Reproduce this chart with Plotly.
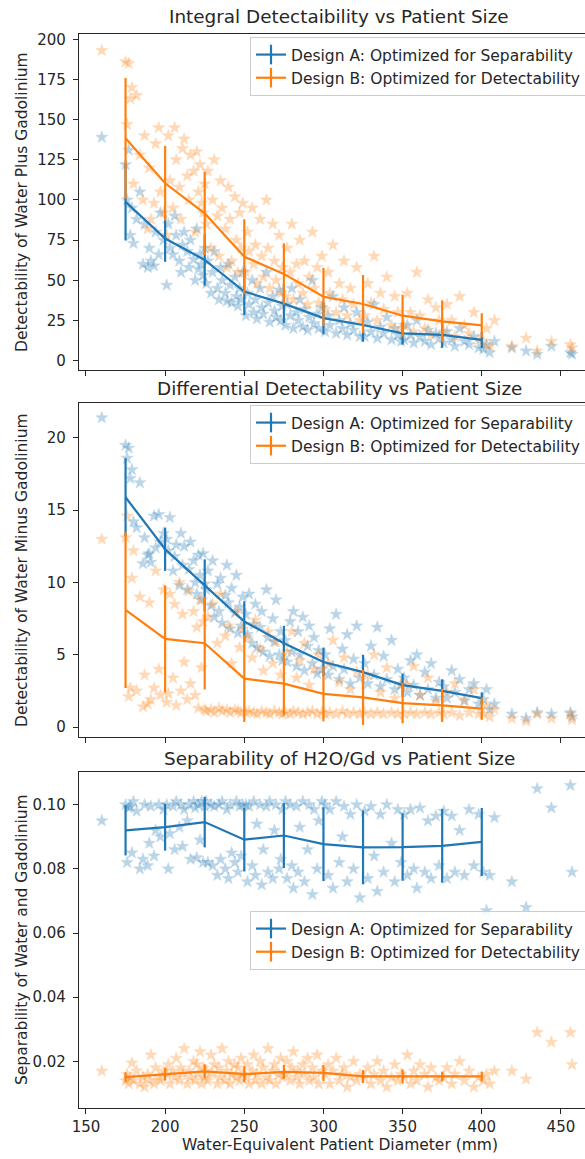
import plotly.graph_objects as go

# ---------------- data ----------------
# Water-equivalent diameter of each patient (mm)
diameter_mm = [
    160,
    175, 176, 177, 178, 179, 180, 182, 184, 186, 187, 189, 190, 191, 193, 194, 196, 197, 199,
    201, 202, 203, 205, 206, 207, 209, 210, 211, 212, 214, 215, 216, 218, 219, 220, 221, 222, 223, 224, 225,
    226, 227, 229, 230, 231, 233, 234, 235, 236, 238, 239, 240, 241, 242, 244, 245, 246, 247, 248, 249,
    251, 252, 253, 255, 256, 257, 258, 260, 261, 262, 264, 265, 266, 268, 269, 270, 272, 273, 274,
    276, 277, 279, 280, 281, 283, 284, 285, 287, 288, 290, 291, 293, 294, 296, 297, 299,
    301, 303, 304, 306, 308, 310, 312, 313, 315, 317, 319, 321, 323,
    326, 328, 330, 332, 334, 336, 338, 340, 343, 345, 347, 349,
    351, 353, 355, 357, 359, 361, 364, 366, 368, 371, 373,
    376, 378, 381, 383, 386, 389, 392, 395, 398,
    401, 403, 405, 408,
    419, 428, 435, 444, 456, 457,
]

# Integral detectability (water plus gadolinium) per patient
int_det_a = [
    139,
    122, 100, 131, 78, 95, 73, 88, 105, 60, 85, 58, 70, 62, 59, 80, 66, 92, 75,
    47, 85, 70, 66, 90, 78, 62, 55, 72, 80, 68, 58, 75, 63, 50, 82, 57, 66, 60, 53, 70,
    48, 62, 42, 55, 68, 45, 38, 58, 50, 42, 37, 60, 47, 36, 52, 40, 34, 45, 38, 55,
    28, 42, 35, 50, 30, 38, 26, 45, 33, 29, 55, 36, 24, 40, 31, 27, 44, 25, 34,
    22, 35, 28, 45, 20, 30, 25, 38, 21, 32, 19, 27, 50, 23, 29, 20, 33,
    18, 28, 22, 40, 17, 25, 20, 33, 16, 23, 19, 30, 15,
    15, 24, 18, 35, 14, 21, 17, 27, 13, 20, 16, 12,
    13, 22, 16, 11, 25, 15, 12, 19, 10, 17, 14,
    11, 18, 13, 9, 20, 12, 10, 15, 8,
    7, 10, 5, 12,
    8, 6, 4, 9, 5, 4,
]
int_det_b = [
    193,
    186, 147, 185, 163, 170, 110, 165, 128, 100, 140, 82, 120, 88, 98, 135, 145, 105, 92,
    78, 140, 112, 95, 145, 125, 108, 88, 132, 138, 115, 100, 128, 118, 80, 130, 105, 122, 98, 92, 110,
    85, 118, 70, 100, 125, 90, 65, 112, 95, 82, 58, 108, 88, 62, 102, 75, 55, 92, 70, 98,
    55, 80, 68, 95, 60, 72, 48, 88, 65, 52, 100, 70, 45, 85, 62, 50, 78, 42, 58,
    40, 70, 55, 85, 38, 60, 48, 75, 42, 62, 35, 52, 80, 45, 58, 36, 65,
    32, 55, 42, 72, 30, 48, 38, 62, 28, 45, 35, 58, 25,
    28, 48, 36, 65, 25, 42, 32, 52, 22, 40, 30, 20,
    22, 42, 30, 18, 55, 28, 20, 38, 16, 33, 25,
    18, 35, 25, 15, 40, 22, 17, 30, 13,
    12, 20, 9, 25,
    9, 14, 6, 12, 10, 8,
]

# Differential detectability (water minus gadolinium) per patient
diff_det_a = [
    21.4,
    19.5, 18.6, 19.3, 17.2, 17.8, 14.2, 13.8, 16.9, 11.3, 13.1, 11.9, 12.0, 11.4, 14.6, 12.4, 14.7, 12.8, 13.4,
    13.0, 12.2, 14.5, 10.8, 11.8, 12.6, 9.8, 13.4, 11.2, 12.5, 9.5, 10.9, 12.8, 11.5, 10.0, 9.2, 11.9, 10.5, 8.8, 12.0, 9.9,
    9.5, 10.8, 8.4, 11.5, 7.6, 9.9, 8.0, 10.3, 7.2, 9.1, 11.2, 8.6, 6.8, 9.6, 7.9, 10.5, 6.5, 8.3, 7.0, 9.0,
    7.8, 6.4, 9.2, 5.8, 7.1, 8.5, 5.5, 6.9, 8.0, 5.2, 9.5, 6.2, 4.9, 7.5, 5.9, 8.8, 5.0, 6.6, 4.6,
    6.0, 4.5, 7.3, 5.2, 8.0, 4.2, 6.6, 5.0, 7.6, 3.9, 5.6, 7.0, 4.4, 6.2, 3.7, 5.3, 4.0,
    5.0, 3.6, 6.8, 4.2, 7.8, 3.3, 5.4, 4.0, 6.4, 3.0, 4.7, 7.0, 3.4,
    4.4, 3.0, 5.6, 3.6, 6.9, 2.8, 4.9, 3.3, 6.0, 2.6, 4.0, 2.9,
    3.4, 2.4, 4.6, 2.9, 5.0, 2.2, 3.8, 2.6, 4.4, 2.0, 3.1,
    2.8, 2.0, 3.9, 2.4, 3.3, 1.8, 2.6, 3.0, 1.6,
    1.9, 2.6, 1.2, 1.6,
    0.9, 0.6, 1.0, 0.9, 1.0, 0.7,
]
diff_det_b = [
    13.0,
    13.1, 14.6, 2.1, 2.7, 10.3, 12.2, 2.5, 9.0, 1.4, 3.6, 1.6, 8.6, 1.9, 2.7, 10.8, 4.0, 2.2, 9.5,
    1.7, 2.3, 9.2, 3.4, 8.5, 1.5, 10.0, 2.5, 7.8, 4.5, 1.9, 9.4, 3.0, 8.0, 2.2, 6.9, 1.3, 8.8, 4.1, 7.3, 1.2,
    1.1, 7.6, 1.2, 8.5, 1.0, 5.8, 1.3, 9.2, 1.1, 6.3, 1.2, 7.0, 1.0, 4.4, 1.2, 8.0, 1.1, 5.5, 1.0, 6.8,
    1.0, 6.2, 1.1, 4.8, 1.0, 7.4, 0.9, 5.4, 1.1, 3.9, 1.0, 6.6, 0.9, 4.4, 1.1, 5.9, 1.0, 3.6, 0.9,
    1.0, 5.2, 0.9, 6.6, 1.1, 3.4, 1.0, 4.6, 0.9, 5.8, 1.0, 2.9, 1.1, 4.0, 0.9, 5.0, 1.0,
    0.9, 4.4, 1.0, 6.0, 0.9, 3.1, 1.1, 4.8, 0.9, 2.6, 1.0, 3.8, 0.9,
    1.0, 3.6, 0.9, 5.0, 1.0, 2.4, 0.9, 4.1, 1.0, 2.0, 0.9, 3.0,
    0.9, 2.9, 1.0, 4.2, 0.9, 2.2, 1.0, 3.4, 0.9, 1.8, 1.0,
    0.9, 2.4, 1.0, 3.0, 0.8, 1.9, 1.0, 2.6, 0.9,
    0.9, 1.5, 0.7, 1.2,
    0.6, 0.4, 0.9, 0.6, 0.9, 0.5,
]

# Separability of water and gadolinium per patient
sep_a = [
    0.095,
    0.100, 0.082, 0.099, 0.0995, 0.085, 0.101, 0.098, 0.080, 0.083, 0.100, 0.081, 0.088, 0.0995, 0.084, 0.092, 0.100, 0.090, 0.0985,
    0.100, 0.080, 0.091, 0.0995, 0.086, 0.101, 0.093, 0.100, 0.087, 0.0985, 0.095, 0.100, 0.083, 0.101, 0.099, 0.0835, 0.100, 0.089, 0.101, 0.082, 0.0995,
    0.101, 0.082, 0.100, 0.081, 0.0995, 0.078, 0.100, 0.083, 0.101, 0.080, 0.0985, 0.077, 0.100, 0.085, 0.082, 0.101, 0.079, 0.0995, 0.084, 0.100,
    0.100, 0.076, 0.0995, 0.081, 0.101, 0.078, 0.094, 0.100, 0.075, 0.086, 0.0995, 0.079, 0.101, 0.077, 0.092, 0.100, 0.080, 0.083, 0.0985,
    0.101, 0.077, 0.100, 0.081, 0.074, 0.0995, 0.079, 0.093, 0.101, 0.076, 0.086, 0.100, 0.072, 0.0985, 0.080, 0.095, 0.101,
    0.100, 0.078, 0.0985, 0.074, 0.101, 0.082, 0.090, 0.0995, 0.076, 0.097, 0.080, 0.100, 0.071,
    0.098, 0.077, 0.0995, 0.084, 0.073, 0.097, 0.079, 0.100, 0.088, 0.076, 0.0985, 0.082,
    0.097, 0.078, 0.0985, 0.080, 0.074, 0.099, 0.079, 0.095, 0.077, 0.0965, 0.081,
    0.098, 0.077, 0.0965, 0.079, 0.092, 0.078, 0.0985, 0.081, 0.097,
    0.079, 0.067, 0.078, 0.096,
    0.076, 0.068, 0.105, 0.099, 0.106, 0.079,
]
sep_b = [
    0.017,
    0.014, 0.016, 0.013, 0.015, 0.0195, 0.014, 0.017, 0.013, 0.015, 0.012, 0.016, 0.014, 0.022, 0.013, 0.018, 0.015, 0.014, 0.017,
    0.016, 0.019, 0.013, 0.017, 0.015, 0.021, 0.014, 0.018, 0.016, 0.024, 0.013, 0.017, 0.015, 0.020, 0.014, 0.019, 0.016, 0.023, 0.013, 0.018, 0.015,
    0.017, 0.014, 0.022, 0.016, 0.019, 0.013, 0.018, 0.015, 0.024, 0.014, 0.017, 0.020, 0.013, 0.016, 0.019, 0.015, 0.018, 0.014, 0.021, 0.016,
    0.015, 0.019, 0.013, 0.017, 0.022, 0.014, 0.016, 0.020, 0.013, 0.018, 0.015, 0.024, 0.014, 0.017, 0.019, 0.013, 0.016, 0.021, 0.015,
    0.016, 0.020, 0.014, 0.018, 0.023, 0.015, 0.017, 0.013, 0.019, 0.016, 0.021, 0.014, 0.018, 0.015, 0.022, 0.013, 0.017,
    0.016, 0.019, 0.013, 0.017, 0.021, 0.014, 0.016, 0.018, 0.012, 0.015, 0.020, 0.014, 0.016,
    0.015, 0.018, 0.013, 0.016, 0.020, 0.014, 0.017, 0.012, 0.015, 0.019, 0.014, 0.016,
    0.015, 0.022, 0.013, 0.017, 0.014, 0.019, 0.016, 0.012, 0.018, 0.015, 0.014,
    0.015, 0.018, 0.013, 0.016, 0.020, 0.014, 0.017, 0.012, 0.015,
    0.014, 0.016, 0.013, 0.017,
    0.017, 0.0145, 0.029, 0.026, 0.029, 0.019,
]

# Binned summaries (bin centre, mean, standard deviation)
bin_centers = [175, 200, 225, 250, 275, 300, 325, 350, 375, 400]
int_mean_a = [98.8, 76.0, 62.7, 43.0, 35.5, 26.5, 22.2, 17.0, 16.0, 12.9]
int_std_a = [24.0, 14.5, 16.0, 14.6, 12.0, 10.0, 10.4, 7.0, 8.0, 5.0]
int_mean_b = [138.4, 110.4, 91.7, 64.7, 54.0, 39.8, 35.3, 28.0, 24.5, 22.0]
int_std_b = [37.5, 23.2, 26.0, 23.3, 19.0, 18.0, 18.0, 13.0, 13.0, 7.5]
diff_mean_a = [15.9, 12.3, 9.8, 7.3, 5.8, 4.5, 3.8, 2.9, 2.5, 2.0]
diff_std_a = [2.7, 1.5, 1.8, 1.4, 1.2, 1.0, 1.2, 0.8, 0.8, 0.4]
diff_mean_b = [8.1, 6.1, 5.8, 3.35, 3.0, 2.3, 2.05, 1.66, 1.5, 1.27]
diff_std_b = [5.4, 3.7, 3.2, 3.0, 2.2, 1.9, 1.9, 1.4, 1.15, 0.77]
sep_mean_a = [0.0920, 0.0930, 0.0946, 0.0891, 0.0904, 0.0877, 0.0867, 0.0868, 0.0872, 0.0884]
sep_std_a = [0.0078, 0.0073, 0.0079, 0.0099, 0.0101, 0.0115, 0.0115, 0.0105, 0.0115, 0.0106]
sep_mean_b = [0.0151, 0.0160, 0.0169, 0.0160, 0.0167, 0.0164, 0.0153, 0.0153, 0.0153, 0.0153]
sep_std_b = [0.0015, 0.0020, 0.0022, 0.0025, 0.0022, 0.0025, 0.0020, 0.0022, 0.0015, 0.0015]

name_a = "Design A: Optimized for Separability"
name_b = "Design B: Optimized for Detectability"
x_ticks = [150, 200, 250, 300, 350, 400, 450]

for series in (int_det_a, int_det_b, diff_det_a, diff_det_b, sep_a, sep_b):
    assert len(series) == len(diameter_mm)

# ---------------- layout helpers ----------------
BLUE = "#1f77b4"
ORANGE = "#ff7f0e"
INK = "#262626"
FONT = "DejaVu Sans"
W, H = 585, 1159
PL, PR, PT, PB = 79, 585, 34, 1108


def fx(px):
    return (px - PL) / (PR - PL)


def fy(py):
    return (PB - py) / (PB - PT)


panels = [
    dict(top=34, bottom=370, title="Integral Detectaibility vs Patient Size",
         ylabel="Detectability of Water Plus Gadolinium",
         ya=int_det_a, yb=int_det_b, ma=int_mean_a, sa=int_std_a, mb=int_mean_b, sb=int_std_b,
         yrange=[-5.8, 203.3], ytick=dict(tickvals=[0, 25, 50, 75, 100, 125, 150, 175, 200]),
         legend_top=37, title_y=17),
    dict(top=403, bottom=737, title="Differential Detectability vs Patient Size",
         ylabel="Detectability of Water Minus Gadolinium",
         ya=diff_det_a, yb=diff_det_b, ma=diff_mean_a, sa=diff_std_a, mb=diff_mean_b, sb=diff_std_b,
         yrange=[-0.69, 22.42], ytick=dict(tickvals=[0, 5, 10, 15, 20]),
         legend_top=405, title_y=388),
    dict(top=772, bottom=1108, title="Separability of H2O/Gd vs Patient Size",
         ylabel="Separability of Water and Gadolinium",
         ya=sep_a, yb=sep_b, ma=sep_mean_a, sa=sep_std_a, mb=sep_mean_b, sb=sep_std_b,
         yrange=[0.00547, 0.1102],
         ytick=dict(tickvals=[0.02, 0.04, 0.06, 0.08, 0.10], tickformat=".2f"),
         legend_top=911, title_y=758),
]

fig = go.Figure()
layout = dict(
    width=W, height=H,
    margin=dict(l=PL, r=W - PR, t=PT, b=H - PB, pad=0, autoexpand=False),
    paper_bgcolor="white", plot_bgcolor="white",
    font=dict(family=FONT, size=15, color=INK),
    showlegend=True,
    annotations=[],
)

for i, p in enumerate(panels, start=1):
    sfx = "" if i == 1 else str(i)
    xa, ya = "x" + sfx, "y" + sfx
    leg = "legend" + sfx

    for yv, col in ((p["ya"], BLUE), (p["yb"], ORANGE)):
        fig.add_trace(go.Scatter(
            x=diameter_mm, y=yv, mode="markers", xaxis=xa, yaxis=ya, showlegend=False,
            hoverinfo="skip",
            marker=dict(symbol="star", size=9, color=col, opacity=0.3,
                        line=dict(width=0.6, color=col)),
        ))
    for m, s, col in ((p["ma"], p["sa"], BLUE), (p["mb"], p["sb"], ORANGE)):
        fig.add_trace(go.Scatter(
            x=bin_centers, y=m, mode="lines", xaxis=xa, yaxis=ya, showlegend=False,
            line=dict(color=col, width=2.2),
            error_y=dict(type="data", array=s, visible=True, color=col, thickness=2.2, width=0),
        ))
    for nm, col in ((name_a, BLUE), (name_b, ORANGE)):
        fig.add_trace(go.Scatter(
            x=[None], y=[None], mode="lines+markers", name=nm, xaxis=xa, yaxis=ya,
            legend=leg, line=dict(color=col, width=2.2),
            marker=dict(symbol="line-ns", size=14, color=col, line=dict(width=2.2, color=col)),
        ))

    layout["xaxis" + sfx] = dict(
        domain=[0, 1], anchor=ya, range=[145.6, 465.2], tickvals=x_ticks,
        showticklabels=(i == 3), ticks="outside", ticklen=5, tickwidth=1.2, tickcolor=INK,
        showline=True, linecolor=INK, linewidth=1.2, mirror=True,
        showgrid=False, zeroline=False, tickfont=dict(size=15, color=INK),
        automargin=False,
    )
    layout["yaxis" + sfx] = dict(
        domain=[fy(p["bottom"]), fy(p["top"])], anchor=xa, range=p["yrange"],
        ticks="outside", ticklen=5, tickwidth=1.2, tickcolor=INK,
        showline=True, linecolor=INK, linewidth=1.2, mirror=False,
        showgrid=False, zeroline=False, tickfont=dict(size=15, color=INK),
        ticklabelstandoff=4, automargin=False, **p["ytick"],
    )
    layout[leg] = dict(
        x=fx(250), y=fy(p["legend_top"]), xanchor="left", yanchor="top",
        bgcolor="rgba(255,255,255,0.8)", bordercolor="#cccccc", borderwidth=1,
        font=dict(size=15.5, color=INK), tracegroupgap=0,
    )
    layout["annotations"].append(dict(
        text=p["title"], xref="paper", yref="paper", x=fx(339), y=fy(p["title_y"]),
        xanchor="center", yanchor="middle", showarrow=False,
        font=dict(size=18.4, color=INK, family=FONT),
    ))
    layout["annotations"].append(dict(
        text=p["ylabel"], xref="paper", yref="paper", x=fx(22),
        y=fy((p["top"] + p["bottom"]) / 2), xanchor="center", yanchor="middle",
        textangle=-90, showarrow=False, font=dict(size=15.5, color=INK, family=FONT),
    ))

layout["annotations"].append(dict(
    text="Water-Equivalent Patient Diameter (mm)", xref="paper", yref="paper",
    x=fx(340), y=fy(1145), xanchor="center", yanchor="middle", showarrow=False,
    font=dict(size=15.5, color=INK, family=FONT),
))

fig.update_layout(**layout)
fig.write_html("out.html")
